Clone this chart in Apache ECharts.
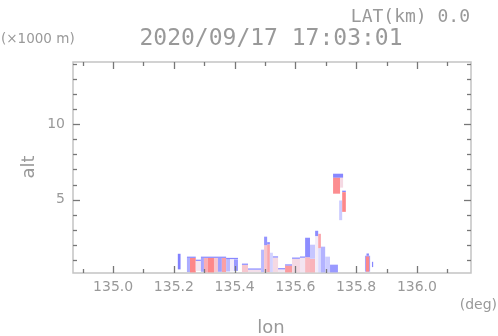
<!DOCTYPE html>
<html><head><meta charset="utf-8">
<script src="https://cdn.jsdelivr.net/npm/echarts@6/dist/echarts.min.js"></script>
<style>html,body{margin:0;padding:0;background:#fff}#c{width:498px;height:336px}</style>
</head><body><div id="c"></div>
<script>
// ---- axis ranges & ticks ----
const lonRange = [134.868, 136.178];
const altRange = [0.16, 14.1];
const lonMajorTicks = [135.0, 135.2, 135.4, 135.6, 135.8, 136.0];
const lonMinorTicks = [134.9, 135.1, 135.3, 135.5, 135.7, 135.9, 136.1];
const altMajorTicks = [5, 10];
const altMinorTicks = [1, 2, 3, 4, 6, 7, 8, 9, 11, 12, 13, 14];

// ---- echo cells: [lonStart, lonEnd, altBottom(km), altTop(km), velocity(-1 blue .. +1 red)] ----
const echoSpike = [
  [135.213, 135.222, 0.40, 1.43, -0.90]
];
const echoBlockWest = [
  [135.243, 135.253, 0.22, 1.16, -0.55],
  [135.253, 135.272, 0.20, 1.16, 0.85],
  [135.272, 135.289, 0.30, 0.96, 0.10],
  [135.289, 135.299, 0.24, 1.16, -0.60],
  [135.299, 135.312, 0.20, 1.16, 0.55],
  [135.312, 135.332, 0.20, 1.16, 0.85],
  [135.332, 135.345, 0.22, 1.16, 0.35],
  [135.345, 135.358, 0.24, 1.16, -0.65],
  [135.358, 135.372, 0.22, 1.16, 0.65],
  [135.372, 135.385, 0.26, 1.12, -0.45],
  [135.385, 135.398, 0.26, 1.08, 0.05],
  [135.398, 135.411, 0.30, 1.06, -0.70],
  [135.243, 135.272, 1.16, 1.24, -0.85],
  [135.272, 135.289, 0.96, 1.04, -0.85],
  [135.289, 135.372, 1.16, 1.24, -0.85],
  [135.372, 135.411, 1.08, 1.16, -0.85]
];
const echoLowMid = [
  [135.424, 135.444, 0.22, 0.70, 0.35],
  [135.424, 135.444, 0.70, 0.78, -0.85],
  [135.444, 135.487, 0.22, 0.38, 0.15],
  [135.444, 135.487, 0.38, 0.46, -0.85]
];
const echoSpikeA = [
  [135.487, 135.497, 0.22, 1.70, -0.45],
  [135.497, 135.507, 0.22, 2.00, 0.35],
  [135.497, 135.507, 2.00, 2.56, -0.75],
  [135.507, 135.516, 0.22, 2.05, 0.60],
  [135.507, 135.516, 2.05, 2.20, -0.80],
  [135.516, 135.526, 0.22, 1.50, -0.25],
  [135.526, 135.543, 0.22, 1.18, 0.20],
  [135.526, 135.543, 1.18, 1.26, -0.85],
  [135.543, 135.566, 0.22, 0.40, 0.10],
  [135.543, 135.566, 0.40, 0.48, -0.85]
];
const echoClusterB = [
  [135.566, 135.589, 0.20, 0.65, 0.70],
  [135.566, 135.589, 0.65, 0.73, -0.85],
  [135.589, 135.615, 0.20, 1.10, 0.20],
  [135.589, 135.615, 1.10, 1.18, -0.85],
  [135.615, 135.632, 0.20, 1.17, 0.10],
  [135.615, 135.632, 1.17, 1.25, -0.85],
  [135.632, 135.648, 0.20, 1.20, 0.45],
  [135.632, 135.648, 1.20, 2.49, -0.80],
  [135.648, 135.665, 0.20, 1.10, 0.50],
  [135.648, 135.665, 1.10, 2.03, -0.35],
  [135.665, 135.675, 0.20, 2.60, 0.05],
  [135.665, 135.675, 2.60, 2.95, -0.80],
  [135.675, 135.684, 0.20, 1.80, -0.20],
  [135.675, 135.684, 1.80, 2.75, 0.60],
  [135.684, 135.698, 0.20, 1.90, -0.50],
  [135.698, 135.714, 0.20, 1.24, -0.30],
  [135.714, 135.740, 0.20, 0.71, -0.70]
];
const echoAloft = [
  [135.724, 135.757, 6.45, 6.72, -0.85],
  [135.724, 135.747, 5.40, 6.45, 0.80],
  [135.747, 135.757, 5.80, 6.45, 0.20],
  [135.744, 135.754, 3.65, 4.95, -0.30],
  [135.754, 135.766, 5.50, 5.60, -0.85],
  [135.754, 135.766, 4.20, 5.50, 0.85]
];
const echoEast = [
  [135.829, 135.846, 0.25, 1.30, -0.60],
  [135.834, 135.842, 1.30, 1.45, -0.85],
  [135.832, 135.843, 0.25, 1.25, 0.85],
  [135.852, 135.856, 0.55, 0.90, -0.85]
];

const cells = [].concat(echoSpike, echoBlockWest, echoLowMid, echoSpikeA, echoClusterB, echoAloft, echoEast);

const FRAME = '#c4c4c4', TICK = '#777777', TXT = '#999999';
const SANS = 'DejaVu Sans', MONO = 'DejaVu Sans Mono';
const MAJOR_LEN = 7, MINOR_LEN = 4;
const VEL_COLORS = ['#7474ff', '#f2f2ff', '#ff7474'];

// tick data built from the tick arrays (flag 1 = major, 0 = minor)
const lonTickData = lonMajorTicks.map(v => [v, 1]).concat(lonMinorTicks.map(v => [v, 0]));
const altTickData = altMajorTicks.map(v => [v, 1]).concat(altMinorTicks.map(v => [v, 0]));

const chart = echarts.init(document.getElementById('c'), null, { renderer: 'canvas' });

function drawTicks() {
  const g = [];
  const pBL = chart.convertToPixel({ gridIndex: 0 }, [lonRange[0], altRange[0]]);
  const pTR = chart.convertToPixel({ gridIndex: 0 }, [lonRange[1], altRange[1]]);
  lonTickData.forEach(([v, major]) => {
    const x = Math.round(chart.convertToPixel({ xAxisIndex: 0 }, v)) + 0.5;
    const len = major ? MAJOR_LEN : MINOR_LEN;
    g.push({ type: 'line', z: 100, silent: true, shape: { x1: x, y1: pBL[1], x2: x, y2: pBL[1] - len }, style: { stroke: TICK, lineWidth: 1.3 } });
    g.push({ type: 'line', z: 100, silent: true, shape: { x1: x, y1: pTR[1], x2: x, y2: pTR[1] + len }, style: { stroke: TICK, lineWidth: 1.3 } });
  });
  altTickData.forEach(([v, major]) => {
    const y = Math.round(chart.convertToPixel({ yAxisIndex: 0 }, v)) + 0.5;
    const len = major ? MAJOR_LEN : MINOR_LEN;
    g.push({ type: 'line', z: 100, silent: true, shape: { x1: pBL[0], y1: y, x2: pBL[0] + len, y2: y }, style: { stroke: TICK, lineWidth: 1.3 } });
    g.push({ type: 'line', z: 100, silent: true, shape: { x1: pTR[0], y1: y, x2: pTR[0] - len, y2: y }, style: { stroke: TICK, lineWidth: 1.3 } });
  });
  return g;
}

const texts = [
  { type: 'text', x: 470, y: 17, style: { text: 'LAT(km) 0.0', align: 'right', verticalAlign: 'middle', fontFamily: MONO, fontSize: 18, fill: TXT } },
  { type: 'text', x: 271, y: 39, style: { text: '2020/09/17 17:03:01', align: 'center', verticalAlign: 'middle', fontFamily: MONO, fontSize: 23, fill: TXT } },
  { type: 'text', x: 1, y: 39, style: { text: '(×1000 m)', align: 'left', verticalAlign: 'middle', fontFamily: SANS, fontSize: 13.5, fill: TXT } },
  { type: 'text', x: 29, y: 167, rotation: Math.PI / 2, style: { text: 'alt', align: 'center', verticalAlign: 'middle', fontFamily: SANS, fontSize: 18, fill: TXT } },
  { type: 'text', x: 271, y: 328, style: { text: 'lon', align: 'center', verticalAlign: 'middle', fontFamily: SANS, fontSize: 18, fill: TXT } },
  { type: 'text', x: 497, y: 305, style: { text: '(deg)', align: 'right', verticalAlign: 'middle', fontFamily: SANS, fontSize: 14, fill: TXT } }
];

chart.setOption({
  animation: false,
  backgroundColor: '#ffffff',
  grid: { left: 73, right: 27, top: 62, bottom: 63, containLabel: false, outerBoundsMode: 'none',
          show: true, borderColor: FRAME, borderWidth: 1.5, backgroundColor: 'transparent' },
  xAxis: {
    type: 'value', position: 'bottom', min: lonRange[0], max: lonRange[1],
    axisLine: { show: false }, axisTick: { show: false }, splitLine: { show: false },
    axisLabel: { show: true, customValues: lonMajorTicks, formatter: v => v.toFixed(1), color: TXT, fontFamily: SANS, fontSize: 14, margin: 7 }
  },
  yAxis: {
    type: 'value', position: 'left', min: altRange[0], max: altRange[1],
    axisLine: { show: false }, axisTick: { show: false }, splitLine: { show: false },
    axisLabel: { show: true, customValues: altMajorTicks, formatter: v => String(v), color: TXT, fontFamily: SANS, fontSize: 14, margin: 8 }
  },
  series: [{
    type: 'custom', clip: true,
    encode: { x: [0, 1], y: [2, 3] },
    data: cells,
    renderItem: function (params, api) {
      const p0 = api.coord([api.value(0), api.value(3)]);
      const p1 = api.coord([api.value(1), api.value(2)]);
      const t = (api.value(4) + 1) / 2;
      return {
        type: 'rect',
        shape: { x: p0[0], y: p0[1], width: p1[0] - p0[0], height: p1[1] - p0[1] },
        style: { fill: echarts.color.lerp(t, VEL_COLORS) }
      };
    }
  }],
  graphic: texts
});
chart.setOption({ graphic: texts.concat(drawTicks()) });
</script>
</body></html>
